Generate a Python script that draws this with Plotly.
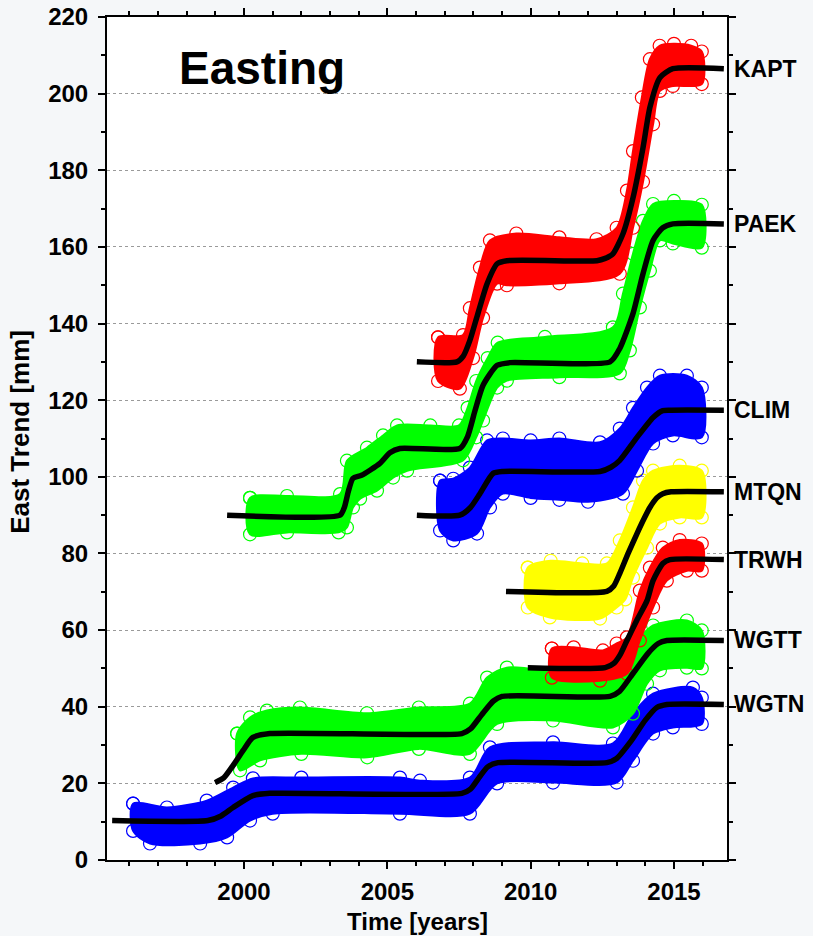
import plotly.graph_objects as go

# ---------------- data ----------------
station_names = ["WGTN", "WGTT", "TRWH", "MTQN", "CLIM", "PAEK", "KAPT"]
station_colors = ["#0000FF", "#00FF00", "#FF0000", "#FFFF00", "#0000FF", "#00FF00", "#FF0000"]

# trend lines (black)
wgtn_trend_t = [1995.40, 1998.74, 1999.2, 1999.62, 2000.31, 2000.9, 2007.6, 2007.9, 2008.2, 2008.5, 2008.86, 2012.66, 2013.0, 2013.5, 2014.0, 2014.4, 2014.75, 2016.74]
wgtn_trend_v = [10.3, 10.3, 11.5, 13.7, 16.8, 17.4, 17.4, 18.5, 21.5, 24.3, 25.4, 25.4, 26.5, 31.0, 36.5, 39.8, 40.6, 40.6]
wgtt_trend_t = [1998.99, 1999.3, 1999.62, 1999.97, 2000.31, 2000.9, 2007.6, 2007.9, 2008.3, 2008.7, 2009.0, 2012.77, 2013.1, 2013.6, 2014.1, 2014.45, 2014.75, 2016.74]
wgtt_trend_v = [20.2, 21.5, 24.7, 28.6, 32.0, 33.0, 33.0, 34.2, 38.0, 41.5, 42.7, 42.7, 44.0, 49.0, 54.0, 56.5, 57.3, 57.3]
trwh_trend_t = [2009.9, 2012.6, 2012.9, 2013.11, 2013.36, 2013.7, 2014.06, 2014.27, 2014.61, 2014.86, 2016.74]
trwh_trend_v = [50.2, 50.2, 51.3, 53.4, 57.3, 62.5, 67.7, 72.9, 77.4, 78.4, 78.4]
mtqn_trend_t = [2009.14, 2012.66, 2012.9, 2013.11, 2013.4, 2013.71, 2013.95, 2014.16, 2014.4, 2014.61, 2014.9, 2016.74]
mtqn_trend_v = [70.1, 70.1, 71.5, 74.8, 80.0, 85.2, 89.0, 92.0, 94.5, 95.6, 96.1, 96.1]
clim_trend_t = [2006.03, 2007.53, 2007.9, 2008.23, 2008.69, 2009.03, 2012.42, 2012.8, 2013.11, 2013.71, 2014.27, 2014.61, 2014.9, 2016.74]
clim_trend_v = [90.0, 90.0, 92.0, 95.6, 100.9, 101.4, 101.4, 102.5, 104.3, 110.3, 115.5, 117.3, 117.4, 117.4]
paek_trend_t = [1999.41, 2003.35, 2003.5, 2003.65, 2003.8, 2004.1, 2004.74, 2005.09, 2005.44, 2007.53, 2007.8, 2008.06, 2008.34, 2008.83, 2009.28, 2012.77, 2013.11, 2013.57, 2013.92, 2014.27, 2014.61, 2014.96, 2016.74]
paek_trend_v = [90.0, 90.0, 92.0, 96.5, 99.6, 100.4, 103.5, 106.3, 107.4, 107.4, 110.5, 117.3, 123.9, 129.1, 129.8, 130.0, 133.5, 142.6, 153.0, 161.7, 165.0, 166.0, 166.0]
kapt_trend_t = [2006.03, 2007.43, 2007.65, 2007.88, 2008.16, 2008.48, 2008.83, 2009.17, 2012.31, 2012.6, 2012.87, 2013.22, 2013.57, 2013.92, 2014.16, 2014.51, 2014.96, 2016.74]
kapt_trend_v = [130.0, 130.0, 131.5, 135.6, 142.6, 150.4, 155.6, 156.4, 156.4, 157.0, 158.2, 163.4, 172.8, 185.9, 196.4, 204.2, 206.5, 206.5]

# observation clouds: upper and lower visual extent of the circles
wgtn_hi_t = [1996.13, 1997.31, 1998.7, 1999.62, 2000.31, 2002.0, 2005.44, 2006.14, 2007.88, 2008.58, 2010.78, 2012.87, 2013.57, 2014.27, 2015.66, 2015.97]
wgtn_hi = [14.7, 13.7, 15.5, 18.9, 21.3, 21.5, 21.5, 20.7, 21.5, 29.4, 30.7, 30.4, 38.2, 43.4, 45.0, 42.4]
wgtn_lo_t = [1996.13, 1996.72, 1998.47, 1999.41, 2000.21, 2001.0, 2005.44, 2007.88, 2008.83, 2010.78, 2013.0, 2013.57, 2014.27, 2014.96, 2015.97]
wgtn_lo = [7.6, 4.3, 4.3, 5.9, 10.3, 12.1, 12.1, 12.1, 20.0, 20.2, 20.2, 25.9, 33.0, 34.6, 35.5]

wgtt_hi_t = [1999.76, 2000.21, 2000.8, 2001.95, 2004.29, 2006.1, 2007.88, 2008.48, 2009.17, 2010.78, 2012.52, 2013.11, 2013.71, 2014.27, 2015.45, 2015.97]
wgtt_hi = [33.0, 37.2, 39.0, 39.8, 38.3, 39.8, 40.8, 47.6, 50.2, 49.0, 46.8, 52.9, 57.3, 61.2, 62.5, 59.9]
wgtt_lo_t = [1999.86, 2000.56, 2002.0, 2004.3, 2006.1, 2007.88, 2008.83, 2010.78, 2012.87, 2013.57, 2014.06, 2014.51, 2015.45, 2015.97]
wgtt_lo = [23.4, 26.0, 27.7, 26.8, 29.0, 27.7, 35.5, 36.4, 34.6, 38.2, 46.0, 49.5, 50.2, 50.0]

trwh_hi_t = [2010.74, 2011.5, 2012.52, 2013.0, 2013.36, 2013.81, 2014.16, 2014.61, 2015.2, 2015.97]
trwh_hi = [55.2, 55.5, 54.7, 56.5, 58.1, 70.3, 76.3, 81.5, 83.5, 82.6]
trwh_lo_t = [2010.74, 2012.42, 2013.36, 2013.81, 2014.27, 2014.75, 2015.45, 2015.97]
trwh_lo = [47.6, 46.8, 48.6, 57.3, 65.9, 72.9, 75.5, 75.5]

mtqn_hi_t = [2009.9, 2010.7, 2011.8, 2012.66, 2013.11, 2013.57, 2013.92, 2014.27, 2015.2, 2015.97]
mtqn_hi = [76.3, 78.1, 77.4, 77.4, 83.4, 92.0, 99.0, 101.6, 102.9, 101.6]
mtqn_lo_t = [2009.9, 2010.67, 2012.42, 2013.0, 2013.3, 2013.57, 2014.06, 2014.51, 2015.2, 2015.97]
mtqn_lo = [65.9, 63.3, 63.0, 65.9, 68.0, 73.7, 81.5, 87.8, 89.4, 89.4]

clim_hi_t = [2006.84, 2007.3, 2007.88, 2008.48, 2009.03, 2010.0, 2011.0, 2012.42, 2013.11, 2013.57, 2014.06, 2014.51, 2015.45, 2015.97]
clim_hi = [99.0, 99.5, 102.4, 109.5, 110.0, 109.5, 110.0, 109.0, 112.6, 118.0, 123.3, 126.4, 126.4, 123.3]
clim_lo_t = [2006.84, 2007.3, 2008.13, 2008.58, 2009.03, 2010.0, 2011.0, 2012.0, 2013.22, 2013.71, 2014.27, 2014.96, 2015.97]
clim_lo = [86.0, 83.4, 85.2, 92.0, 95.6, 94.5, 94.0, 93.5, 95.6, 101.6, 108.7, 110.8, 110.3]

paek_hi_t = [2000.21, 2001.5, 2003.35, 2003.59, 2004.29, 2004.85, 2005.34, 2006.5, 2007.5, 2007.8, 2008.1, 2008.5, 2008.85, 2010.5, 2012.87, 2013.22, 2013.57, 2013.92, 2014.27, 2015.0, 2015.97]
paek_hi = [94.5, 95.0, 95.5, 104.2, 107.6, 110.8, 113.4, 113.4, 113.4, 118.0, 125.0, 131.0, 135.0, 136.5, 139.0, 147.8, 158.2, 166.8, 171.2, 172.0, 171.0]
paek_lo_t = [2000.21, 2001.5, 2003.3, 2003.59, 2003.8, 2004.05, 2004.64, 2005.2, 2005.69, 2007.64, 2008.1, 2008.34, 2008.83, 2009.17, 2011.0, 2013.11, 2013.46, 2013.81, 2014.16, 2014.51, 2014.96, 2015.97]
paek_lo = [85.0, 85.5, 85.5, 86.8, 92.0, 94.3, 96.4, 99.8, 101.6, 104.3, 110.3, 114.7, 123.3, 125.1, 126.0, 127.0, 133.0, 144.2, 153.8, 161.7, 160.9, 159.8]

kapt_hi_t = [2006.77, 2007.64, 2007.88, 2008.23, 2008.58, 2009.5, 2011.0, 2012.3, 2013.0, 2013.36, 2013.57, 2013.88, 2014.16, 2014.5, 2015.0, 2015.6, 2015.97]
kapt_hi = [136.4, 137.0, 144.0, 154.6, 161.7, 163.5, 162.5, 162.0, 165.0, 174.7, 185.0, 199.0, 209.0, 212.5, 213.0, 212.5, 211.0]
kapt_lo_t = [2006.77, 2007.53, 2007.99, 2008.34, 2008.83, 2009.17, 2011.0, 2013.11, 2013.57, 2013.92, 2014.27, 2014.51, 2014.96, 2015.97]
kapt_lo = [125.0, 123.0, 131.0, 141.5, 150.4, 150.0, 150.5, 153.0, 165.0, 177.0, 192.0, 200.7, 202.0, 202.5]

x_tick_labels = ["2000", "2005", "2010", "2015"]
x_tick_vals = [2000, 2005, 2010, 2015]

trends = [(wgtn_trend_t, wgtn_trend_v), (wgtt_trend_t, wgtt_trend_v), (trwh_trend_t, trwh_trend_v),
          (mtqn_trend_t, mtqn_trend_v), (clim_trend_t, clim_trend_v), (paek_trend_t, paek_trend_v),
          (kapt_trend_t, kapt_trend_v)]
clouds = [(wgtn_hi_t, wgtn_hi, wgtn_lo_t, wgtn_lo), (wgtt_hi_t, wgtt_hi, wgtt_lo_t, wgtt_lo),
          (trwh_hi_t, trwh_hi, trwh_lo_t, trwh_lo), (mtqn_hi_t, mtqn_hi, mtqn_lo_t, mtqn_lo),
          (clim_hi_t, clim_hi, clim_lo_t, clim_lo), (paek_hi_t, paek_hi, paek_lo_t, paek_lo),
          (kapt_hi_t, kapt_hi, kapt_lo_t, kapt_lo)]

FONT = "Liberation Sans, Arial, sans-serif"

fig = go.Figure()

# clouds
for name, col, (ht, hv, lt, lv) in zip(station_names, station_colors, clouds):
    xs = list(ht) + list(reversed(lt)) + [ht[0]]
    ys = list(hv) + list(reversed(lv)) + [hv[0]]
    fig.add_trace(go.Scatter(x=xs, y=ys, mode="lines+markers", fill="toself", fillcolor=col,
                             line=dict(color=col, width=2, shape="spline", smoothing=0.8),
                             marker=dict(symbol="circle-open", size=13, color=col, line=dict(width=1.2)),
                             hoverinfo="skip", showlegend=False, name=name))

# trend lines
for name, (tt, tv) in zip(station_names, trends):
    fig.add_trace(go.Scatter(x=tt, y=tv, mode="lines",
                             line=dict(color="black", width=5.5, shape="spline", smoothing=0.6),
                             showlegend=False, name=name + " trend"))

annotations = []
for name, (tt, tv) in zip(station_names, trends):
    annotations.append(dict(text=name, xref="paper", yref="y", x=1.0, y=tv[-1], xshift=5,
                            xanchor="left", yanchor="middle", showarrow=False,
                            font=dict(family=FONT, size=23, color="black", weight="bold")))
annotations.append(dict(text="Easting", xref="paper", yref="paper", x=0.25, y=0.9395,
                        xanchor="center", yanchor="middle", showarrow=False,
                        font=dict(family=FONT, size=46, color="black", weight="bold")))
annotations.append(dict(text="East Trend [mm]", xref="paper", yref="paper", x=-0.1403, y=0.508,
                        xanchor="center", yanchor="middle", textangle=-90, showarrow=False,
                        font=dict(family=FONT, size=26, color="black", weight="bold")))
annotations.append(dict(text="Time [years]", xref="paper", yref="paper", x=0.501, y=-0.0724,
                        xanchor="center", yanchor="middle", showarrow=False,
                        font=dict(family=FONT, size=24, color="black", weight="bold")))

fig.update_layout(
    width=813, height=936,
    margin=dict(l=107, r=86, t=17, b=76, autoexpand=False),
    paper_bgcolor="#f5f7f9", plot_bgcolor="white",
    annotations=annotations,
    xaxis=dict(range=[1995.22, 2016.85], tickvals=x_tick_vals, ticktext=x_tick_labels,
               ticks="outside", ticklen=7, tickwidth=1.5, tickcolor="black", ticklabelstandoff=2,
               ticklabeloverflow="allow",
               showline=True, linecolor="black", linewidth=2, mirror="ticks", automargin=False,
               showgrid=False, zeroline=False,
               minor=dict(dtick=1, tick0=2000, ticks="outside", ticklen=4, tickcolor="black", showgrid=False),
               tickfont=dict(family=FONT, size=24, color="black", weight="bold")),
    yaxis=dict(range=[0, 220], dtick=20, tick0=0,
               ticks="outside", ticklen=7, tickwidth=1.5, tickcolor="black", ticklabelstandoff=5,
               ticklabeloverflow="allow",
               showline=True, linecolor="black", linewidth=2, mirror="ticks", automargin=False,
               showgrid=True, gridcolor="#9a9a9a", griddash="dot", gridwidth=1, zeroline=False,
               minor=dict(dtick=10, tick0=0, ticks="outside", ticklen=4, tickcolor="black", showgrid=False),
               tickfont=dict(family=FONT, size=24, color="black", weight="bold")),
)

# remove the default 8px page margin so the figure fills the window exactly; hide the modebar
fig.write_html("out.html", config={"displayModeBar": False},
               post_script="document.body.style.margin='0';document.body.style.padding='0';")
